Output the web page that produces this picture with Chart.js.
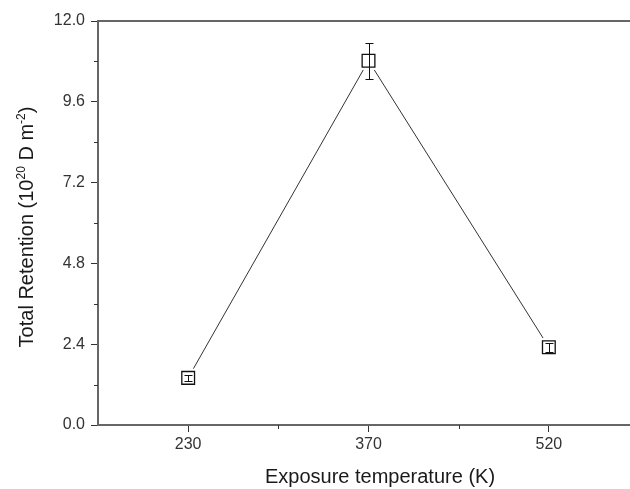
<!DOCTYPE html>
<html>
<head>
<meta charset="utf-8">
<script src="https://cdn.jsdelivr.net/npm/chart.js@4/dist/chart.umd.min.js"></script>
<style>
  html, body { margin: 0; padding: 0; background: #fff; }
  #wrap { width: 630px; height: 489px; }
</style>
</head>
<body>
<div id="wrap"><canvas id="c" width="630" height="489"></canvas></div>
<script>
const categories = ['230', '370', '520'];
const retention = [1.40, 10.82, 2.31];
const retentionErr = [0.09, 0.54, 0.14];
const yTicks = [0, 2.4, 4.8, 7.2, 9.6, 12.0];
const yMinorTicks = [1.2, 3.6, 6.0, 8.4, 10.8];
const xMinorTicks = [0.5, 1.5];

const FONT = '"Liberation Sans", Arial, Helvetica, sans-serif';
const points = retention.map((v, i) => ({ x: i, y: v }));

const decor = {
  id: 'decor',
  afterDraw(chart) {
    const ctx = chart.ctx;
    const a = chart.chartArea;
    const xs = chart.scales.x, ys = chart.scales.y;
    ctx.save();
    // top frame line
    ctx.strokeStyle = '#666';
    ctx.lineWidth = 2;
    ctx.beginPath();
    ctx.moveTo(a.left - 1, a.top);
    ctx.lineTo(a.right, a.top);
    ctx.stroke();
    // minor ticks
    ctx.strokeStyle = '#333';
    ctx.lineWidth = 1;
    ctx.beginPath();
    yMinorTicks.forEach(v => {
      const y = Math.round(ys.getPixelForValue(v)) + 0.5;
      ctx.moveTo(a.left - 4, y);
      ctx.lineTo(a.left, y);
    });
    xMinorTicks.forEach(v => {
      const x = Math.round(xs.getPixelForValue(v)) + 0.5;
      ctx.moveTo(x, a.bottom);
      ctx.lineTo(x, a.bottom + 4);
    });
    ctx.stroke();
    // error bars
    ctx.strokeStyle = '#111';
    ctx.lineWidth = 1;
    ctx.beginPath();
    retention.forEach((v, i) => {
      const x = Math.round(xs.getPixelForValue(i)) + 0.5;
      const yHi = Math.round(ys.getPixelForValue(v + retentionErr[i])) + 0.5;
      const yLo = Math.round(ys.getPixelForValue(v - retentionErr[i])) + 0.5;
      ctx.moveTo(x, yHi); ctx.lineTo(x, yLo);
      ctx.moveTo(x - 4, yHi); ctx.lineTo(x + 4, yHi);
      ctx.moveTo(x - 4, yLo); ctx.lineTo(x + 4, yLo);
    });
    ctx.stroke();
    // x axis title
    ctx.fillStyle = '#1a1a1a';
    ctx.font = '20px ' + FONT;
    ctx.textAlign = 'center';
    ctx.textBaseline = 'alphabetic';
    ctx.fillText('Exposure temperature (K)', 380, 483);
    // y axis title with superscripts
    const parts = [
      { t: 'Total Retention (10', s: false },
      { t: '20', s: true },
      { t: ' D m', s: false },
      { t: '-2', s: true },
      { t: ')', s: false }
    ];
    const big = '20px ' + FONT, small = '12px ' + FONT;
    let total = 0;
    parts.forEach(p => { ctx.font = p.s ? small : big; p.w = ctx.measureText(p.t).width; total += p.w; });
    ctx.translate(33, 227);
    ctx.rotate(-Math.PI / 2);
    ctx.textAlign = 'left';
    let cx = -total / 2;
    parts.forEach(p => {
      ctx.font = p.s ? small : big;
      ctx.fillText(p.t, cx, p.s ? -8 : 0);
      cx += p.w;
    });
    ctx.restore();
  }
};

new Chart(document.getElementById('c'), {
  type: 'scatter',
  data: {
    datasets: [
      {
        label: 'markers',
        data: points,
        showLine: false,
        pointStyle: 'rect',
        pointRadius: 9,
        pointHoverRadius: 9,
        pointBackgroundColor: '#fff',
        pointBorderColor: '#111',
        pointBorderWidth: 1.3,
        order: 0
      },
      {
        label: 'gap',
        data: points,
        showLine: false,
        pointStyle: 'rect',
        pointRadius: 13,
        pointHoverRadius: 13,
        pointBackgroundColor: '#fff',
        pointBorderWidth: 0,
        pointBorderColor: 'rgba(0,0,0,0)',
        order: 1
      },
      {
        label: 'line',
        data: points,
        showLine: true,
        borderColor: '#333',
        borderWidth: 1,
        pointRadius: 0,
        pointHoverRadius: 0,
        tension: 0,
        order: 2
      }
    ]
  },
  options: {
    responsive: false,
    animation: false,
    events: [],
    layout: { autoPadding: false, padding: { top: 21, right: 0, left: 0, bottom: 0 } },
    plugins: { legend: { display: false }, tooltip: { enabled: false } },
    scales: {
      x: {
        type: 'linear',
        min: -0.5,
        max: 2.45,
        afterBuildTicks(s) { s.ticks = categories.map((c, i) => ({ value: i })); },
        afterFit(s) { s.height = 64; s.paddingLeft = 0; s.paddingRight = 0; },
        ticks: {
          callback: (v) => categories[v],
          font: { family: FONT, size: 16 },
          color: '#333',
          padding: 3,
          maxRotation: 0,
          autoSkip: false
        },
        grid: { drawOnChartArea: false, tickLength: 7, color: '#333', lineWidth: 1 },
        border: { display: true, color: '#666', width: 2 }
      },
      y: {
        type: 'linear',
        min: 0,
        max: 12,
        afterBuildTicks(s) { s.ticks = yTicks.map(v => ({ value: v })); },
        afterFit(s) { s.width = 98; },
        ticks: {
          callback: (v) => Number(v).toFixed(1),
          font: { family: FONT, size: 16 },
          color: '#333',
          padding: 6,
          autoSkip: false
        },
        grid: { drawOnChartArea: false, tickLength: 7, color: '#333', lineWidth: 1 },
        border: { display: true, color: '#666', width: 2 }
      }
    }
  },
  plugins: [decor]
});
</script>
</body>
</html>
